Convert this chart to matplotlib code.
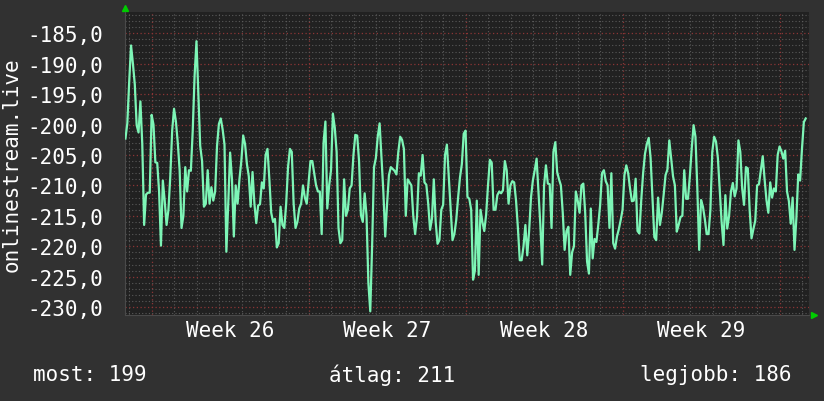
import numpy as np
import matplotlib
matplotlib.use("Agg")
import matplotlib.pyplot as plt

# 2-hour samples, start 1.18 days before the start of week 26
start_day = -1.18
step_day = 2.0 / 24.0
values = [
    -202.3, -199.8, -193.0, -187.0, -190.0, -193.4, -200.1, -201.3, -196.2, -203.2,
    -216.5, -211.5, -211.2, -211.2, -198.4, -200.0, -206.2, -206.3, -211.0, -219.9,
    -209.2, -212.5, -216.5, -214.0, -208.5, -201.0, -197.4, -199.5, -203.0, -207.5,
    -217.0, -215.0, -207.0, -211.0, -207.5, -207.6, -201.0, -192.0, -186.3, -195.0,
    -203.5, -206.0, -213.5, -213.0, -207.5, -213.0, -210.3, -212.5, -211.0, -203.5,
    -199.9, -199.0, -200.8, -203.3, -220.9, -213.0, -204.6, -209.0, -218.4, -210.0,
    -213.0, -209.0,
    -206.0, -201.8, -203.2, -206.5, -208.5, -213.5, -207.8, -213.0, -216.2, -213.3,
    -213.1, -209.5, -210.5, -205.0, -204.0, -209.0, -214.5, -216.0, -215.5, -220.2,
    -219.5, -213.5, -216.5, -217.0, -213.0, -207.0, -204.0, -204.5, -213.0, -217.0,
    -216.0, -213.8, -213.0, -210.0, -212.0, -213.0, -209.5, -206.0, -206.0, -208.0,
    -210.0, -211.0, -211.0, -218.0, -203.0, -199.5, -213.8, -210.0, -207.5, -198.2,
    -200.5, -204.5, -217.0, -219.5, -219.0, -209.0, -215.0, -214.0, -210.5, -210.0,
    -205.0, -201.7,
    -201.8, -206.0, -214.9, -216.0, -211.3, -215.0, -226.1, -230.7, -219.8, -207.0,
    -205.5, -202.0, -199.8, -205.5, -211.0, -218.4, -213.0, -208.3, -207.0, -207.3,
    -207.6, -208.2, -204.5, -202.0, -202.5, -204.0, -215.0, -209.0, -209.5, -210.0,
    -215.0, -218.0, -215.2, -208.0, -208.4, -205.0, -209.5, -209.9, -213.0, -217.3,
    -215.5, -209.0, -216.0, -219.6, -219.0, -214.0, -213.2, -205.0, -203.3, -208.5,
    -213.7, -219.0, -218.0, -215.7, -212.0, -208.7, -206.5, -201.5, -201.0, -211.9,
    -212.2,
    -214.0, -225.5, -224.0, -212.5, -224.7, -214.0, -216.0, -217.5, -214.8, -210.0,
    -205.8, -206.3, -214.0, -214.0, -211.6, -211.0, -211.3, -210.8, -206.0, -207.5,
    -213.0, -210.0, -209.3, -209.5, -212.5, -217.0, -222.3, -222.3, -220.0, -216.5,
    -221.5, -217.5, -212.0, -209.2, -207.5, -205.6, -211.0, -216.5, -223.0, -210.0,
    -206.7, -209.7, -209.8, -217.0, -204.5, -202.9, -207.8, -209.0, -210.0, -214.5,
    -220.6, -217.5, -216.8, -224.7, -221.0, -220.0, -211.0, -212.5, -214.5, -210.0,
    -209.7,
    -214.5, -222.5, -224.5, -213.8, -222.0, -218.8, -219.3, -216.5, -213.2, -208.0,
    -207.5, -209.3, -210.0, -217.0, -208.0, -219.5, -220.4, -218.4, -217.2, -215.7,
    -214.0, -208.3, -206.7, -208.0, -210.5, -212.6, -212.5, -208.9, -217.5, -217.9,
    -212.4, -208.0, -204.8, -203.2, -202.2, -205.5, -212.0, -218.5, -219.0, -212.0,
    -216.5, -214.5, -211.5, -208.3, -207.4, -202.6, -205.6, -208.5, -210.0, -217.6,
    -216.5, -215.2, -215.0, -207.5, -212.2, -212.2, -208.5, -204.0, -200.1, -202.0,
    -210.5, -220.6,
    -212.4, -213.5, -215.5, -218.0, -218.0, -214.0, -204.5, -202.0, -202.8, -205.5,
    -210.6, -216.0, -219.8, -211.6, -217.1, -215.0, -211.0, -209.6, -211.8, -210.5,
    -202.6, -204.5, -210.5, -213.2, -207.0, -207.2, -214.0, -218.7, -217.2, -215.8,
    -210.0, -209.8, -207.5, -205.2, -209.0, -212.4, -214.5, -209.5, -212.0, -210.5,
    -211.0, -205.0, -203.6, -204.4, -205.6, -204.3, -211.0, -212.6, -216.3, -212.0,
    -220.6, -215.4, -208.2, -209.2, -204.0, -199.6, -199.0,
]

week_labels = ["Week 26", "Week 27", "Week 28", "Week 29"]
y_ticks = [-230, -225, -220, -215, -210, -205, -200, -195, -190, -185]
legend_items = ["most: 199", "átlag: 211", "legjobb: 186"]

BG = "#313131"
PLOT_BG = "#212121"
LINE = "#7df5b6"
FONT = "DejaVu Sans Mono"

t = start_day + step_day * np.arange(len(values))

fig = plt.figure(figsize=(8.24, 4.02), dpi=100, facecolor=BG)
ax = fig.add_axes([125 / 824, 1 - 316 / 402, 684 / 824, 303 / 402])
ax.set_facecolor(PLOT_BG)

ax.plot(t, values, color=LINE, lw=1.6, zorder=3)

ax.set_xlim(-1.2, 29.3)
ax.set_ylim(-231.3, -181.5)

# grid: days / single units minor, weeks / 5 units major
ax.set_xticks([0, 7, 14, 21, 28])
ax.set_xticks(np.arange(-1, 30), minor=True)
ax.set_yticks(y_ticks)
ax.set_yticks(np.arange(-231, -181), minor=True)
ax.grid(which="minor", color="#5a5a5a", linestyle=(0, (1, 2)), lw=0.8)
ax.grid(which="major", color="#8c3535", linestyle=(0, (1, 2)), lw=0.9)
ax.set_axisbelow(True)

ax.set_xticklabels([])
ax.set_yticklabels([("%.1f" % v).replace(".", ",") for v in y_ticks],
                   fontfamily=FONT, fontsize=15, color="white")
ax.tick_params(which="both", length=0, pad=16)

for i, lab in enumerate(week_labels):
    ax.text(3.5 + 7 * i, -0.05, lab, transform=ax.get_xaxis_transform(),
            ha="center", va="center", color="white", fontsize=15, fontfamily=FONT)

for s in ["top", "right"]:
    ax.spines[s].set_visible(False)
for s in ["left", "bottom"]:
    ax.spines[s].set_color("#4a4a4a")

# rrdtool style axis arrows
ax.plot([0], [1.012], marker="^", color="#00cc00", ms=5, transform=ax.transAxes, clip_on=False)
ax.plot([1.008], [0], marker=">", color="#00cc00", ms=5, transform=ax.transAxes, clip_on=False)

fig.text(12 / 824, 1 - 165 / 402, "onlinestream.live", rotation=90, ha="center", va="center",
         color="white", fontsize=15, fontfamily=FONT)
fig.text(33 / 824, 1 - 375 / 402, legend_items[0], ha="left", va="center",
         color="white", fontsize=15, fontfamily=FONT)
fig.text(392 / 824, 1 - 375 / 402, legend_items[1], ha="center", va="center",
         color="white", fontsize=15, fontfamily=FONT)
fig.text(791 / 824, 1 - 375 / 402, legend_items[2], ha="right", va="center",
         color="white", fontsize=15, fontfamily=FONT)

fig.savefig("out.png", dpi=100, facecolor=BG)
